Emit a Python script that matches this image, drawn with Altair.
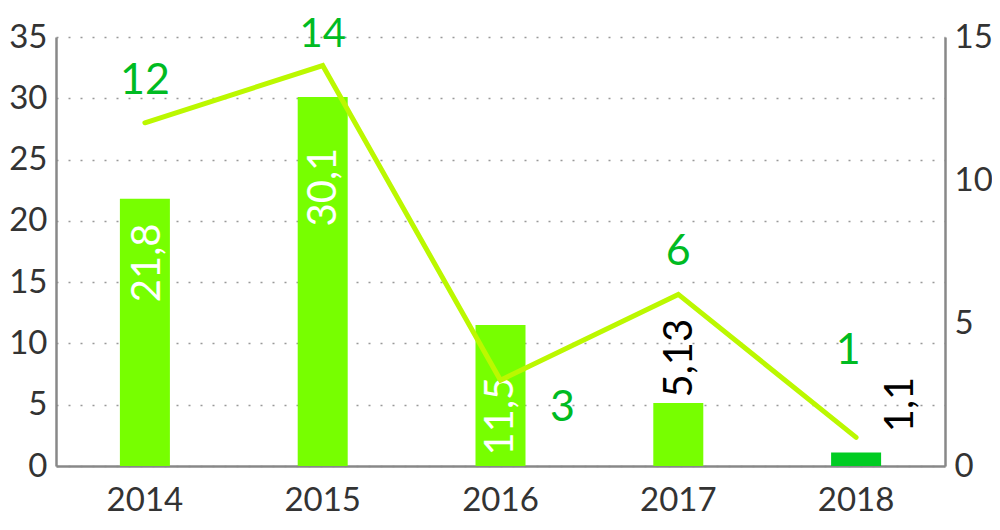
import altair as alt
import pandas as pd

years = ["2014", "2015", "2016", "2017", "2018"]
volumes = [21.8, 30.1, 11.5, 5.13, 1.1]
volume_labels = ["21,8", "30,1", "11,5", "5,13", "1,1"]
counts = [12, 14, 3, 6, 1]
count_labels = ["12", "14", "3", "6", "1"]

df = pd.DataFrame({
    "year": years,
    "volume": volumes,
    "vlabel": volume_labels,
    "count": counts,
    "clabel": count_labels,
})

FONT = "Lato"
BAR = "#77ff00"
BAR_DARK = "#00cc22"
LINE = "#bbf800"
GREEN_TXT = "#00bb22"

x_enc = alt.X(
    "year:N",
    title=None,
    scale=alt.Scale(paddingInner=0, paddingOuter=0),
    axis=alt.Axis(labelAngle=0, labelPadding=18, domainColor="#888", domainWidth=2.5,
                  ticks=False, grid=False),
)
y_left = alt.Y(
    "volume:Q",
    title=None,
    scale=alt.Scale(domain=[0, 35], nice=False),
    axis=alt.Axis(values=[0, 5, 10, 15, 20, 25, 30, 35], labelPadding=9, ticks=False,
                  grid=True, gridDash=[2, 10], gridColor="#999", gridWidth=1.5,
                  domainColor="#888", domainWidth=2.5),
)
y_right = alt.Y(
    "count:Q",
    title=None,
    scale=alt.Scale(domain=[0, 15], nice=False),
    axis=alt.Axis(orient="right", values=[0, 5, 10, 15], labelPadding=9, ticks=False,
                  grid=False, domainColor="#888", domainWidth=2.5),
)

base = alt.Chart(df)

bars = base.mark_bar(size=50).encode(
    x=x_enc,
    y=y_left,
    color=alt.condition(alt.datum.year == "2018", alt.value(BAR_DARK), alt.value(BAR)),
)


def bar_label(year, color, dx, dy):
    return base.transform_filter(alt.datum.year == year).mark_text(
        angle=270, align="center", baseline="middle", font=FONT, fontSize=40,
        color=color, dx=dx, dy=dy,
    ).encode(x=x_enc, y=y_left, text="vlabel:N")


left = alt.layer(
    bars,
    bar_label("2014", "white", -64, 3),
    bar_label("2015", "white", -90, 1),
    bar_label("2016", "white", -91, 0),
    bar_label("2017", "black", 45, 2),
    bar_label("2018", "black", 48, 45),
)

line = base.mark_line(color=LINE, strokeWidth=5, strokeCap="round", strokeJoin="miter").encode(
    x=x_enc, y=y_right
)


def count_label(years_sel, dx, dy, size=43):
    return base.transform_filter(alt.FieldOneOfPredicate(field="year", oneOf=years_sel)).mark_text(
        align="center", baseline="middle", font=FONT, fontSize=size, color=GREEN_TXT,
        dx=dx, dy=dy,
    ).encode(x=x_enc, y=y_right, text="clabel:N")


right = alt.layer(
    line,
    count_label(["2014", "2017"], 0, -42),
    count_label(["2015"], 0, -31, 40),
    count_label(["2016"], 62, 28),
    count_label(["2018"], -8, -86),
)

chart = alt.layer(left, right).resolve_scale(y="independent").properties(
    width=889,
    height=429,
    autosize=alt.AutoSizeParams(type="none"),
    padding={"left": 48, "top": 29, "right": 47, "bottom": 56},
    background="white",
).configure_view(stroke=None).configure_axis(
    labelFont=FONT, labelFontSize=33, labelColor="#333",
)

chart.save("out.html", embed_options={"renderer": "svg", "actions": False})
